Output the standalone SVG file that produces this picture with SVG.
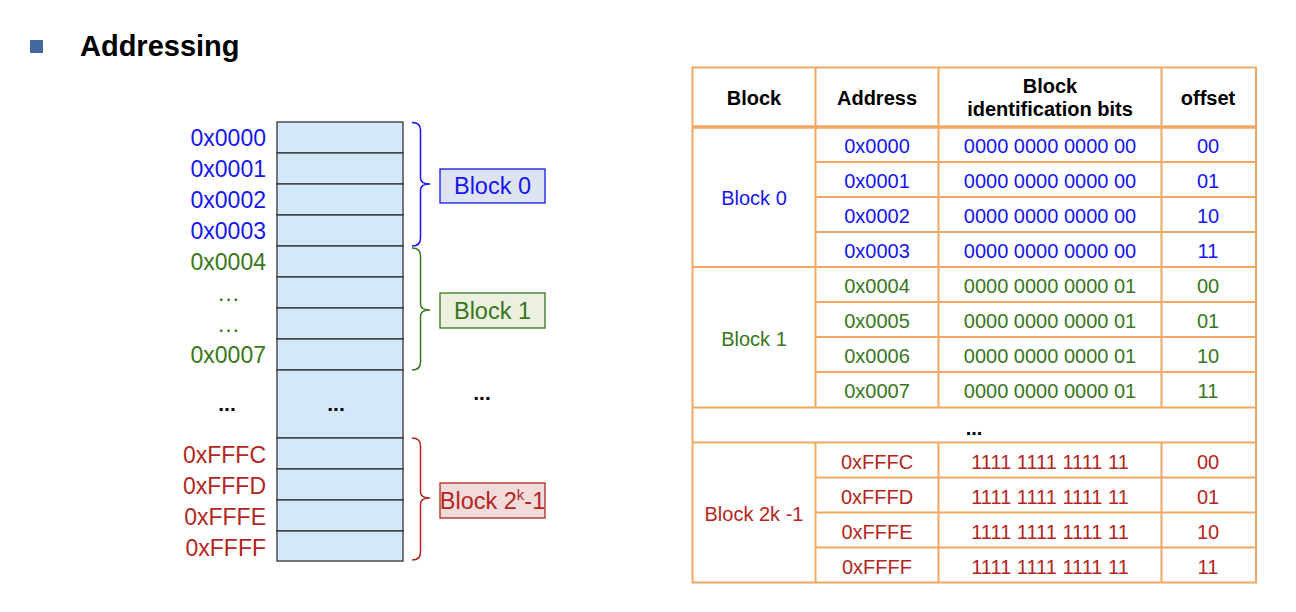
<svg xmlns="http://www.w3.org/2000/svg" width="1296" height="612" viewBox="0 0 1296 612">
<style>
text{font-family:"Liberation Sans",Arial,sans-serif}
.addr{font-size:23px;text-anchor:end}
.cell{fill:#d3e8fb;stroke:#333;stroke-width:1.3}
.b{fill:#1515f0}.g{fill:#38761d}.r{fill:#b3261e}
.brace{fill:none;stroke-width:1.5}
.lbl{font-size:23.5px;text-anchor:middle}
.t{font-size:20px;text-anchor:middle}
.th{font-size:20px;font-weight:bold;text-anchor:middle;fill:#000}
.tl{stroke:#f2a765;stroke-width:2;fill:none}
</style>
<g id="title">
<rect x="30" y="40" width="13" height="13" fill="#41689f"/>
<text x="80" y="56" font-size="29" font-weight="bold">Addressing</text>
</g>
<g id="memory">
<rect class="cell" x="277" y="122" width="126" height="31"/>
<rect class="cell" x="277" y="153" width="126" height="31"/>
<rect class="cell" x="277" y="184" width="126" height="31"/>
<rect class="cell" x="277" y="215" width="126" height="31"/>
<rect class="cell" x="277" y="246" width="126" height="31"/>
<rect class="cell" x="277" y="277" width="126" height="31"/>
<rect class="cell" x="277" y="308" width="126" height="31"/>
<rect class="cell" x="277" y="339" width="126" height="31"/>
<rect class="cell" x="277" y="370" width="126" height="68"/>
<rect class="cell" x="277" y="438" width="126" height="31"/>
<rect class="cell" x="277" y="469" width="126" height="31"/>
<rect class="cell" x="277" y="500" width="126" height="31"/>
<rect class="cell" x="277" y="531" width="126" height="30"/>
<text x="336" y="411" font-size="21" font-weight="bold" text-anchor="middle">...</text>
</g>
<g id="addresses">
<text class="addr b" x="266" y="146">0x0000</text>
<text class="addr b" x="266" y="177">0x0001</text>
<text class="addr b" x="266" y="208">0x0002</text>
<text class="addr b" x="266" y="239">0x0003</text>
<text class="addr g" x="266" y="270">0x0004</text>
<text class="addr g" x="240" y="301">…</text>
<text class="addr g" x="240" y="332">…</text>
<text class="addr g" x="266" y="363">0x0007</text>
<text x="227" y="411" font-size="21" font-weight="bold" text-anchor="middle">...</text>
<text class="addr r" x="266" y="463">0xFFFC</text>
<text class="addr r" x="266" y="494">0xFFFD</text>
<text class="addr r" x="266" y="525">0xFFFE</text>
<text class="addr r" x="266" y="556">0xFFFF</text>
<text x="482" y="400" font-size="21" font-weight="bold" text-anchor="middle">...</text>
</g>
<g id="connectors">
<path class="brace" stroke="#1515f0" d="M412,122.5 Q420.5,122.5 420.5,130 V178 Q420.5,184 430,184 Q420.5,184 420.5,190 V238 Q420.5,246 412,246"/>
<path class="brace" stroke="#38761d" d="M412,248 Q420.5,248 420.5,256 V304 Q420.5,310 430,310 Q420.5,310 420.5,316 V362 Q420.5,370 412,370"/>
<path class="brace" stroke="#b3261e" d="M412,438 Q420.5,438 420.5,446 V492 Q420.5,498 430,498 Q420.5,498 420.5,504 V552 Q420.5,560 412,560"/>
</g>
<g id="block0">
<rect x="440" y="169" width="105" height="34" fill="#dde3f1" stroke="#1515f0" stroke-width="1.3"/>
<text class="lbl b" x="492.5" y="194">Block 0</text>
</g>
<g id="block1">
<rect x="440" y="293" width="105" height="35" fill="#ebf1de" stroke="#38761d" stroke-width="1.3"/>
<text class="lbl g" x="492.5" y="319">Block 1</text>
</g>
<g id="blockN">
<rect x="440" y="483" width="105" height="35" fill="#f1dbdb" stroke="#b3261e" stroke-width="1.3"/>
<text class="lbl r" x="492.5" y="509">Block 2<tspan font-size="15" dy="-9">k</tspan><tspan dy="9">-1</tspan></text>
</g>
<g id="table">
<rect class="tl" x="692.5" y="67.5" width="563.5" height="515"/>
<line class="tl" x1="815.5" y1="67.5" x2="815.5" y2="407.5"/>
<line class="tl" x1="815.5" y1="442.5" x2="815.5" y2="582.5"/>
<line class="tl" x1="938.5" y1="67.5" x2="938.5" y2="407.5"/>
<line class="tl" x1="938.5" y1="442.5" x2="938.5" y2="582.5"/>
<line class="tl" x1="1161.5" y1="67.5" x2="1161.5" y2="407.5"/>
<line class="tl" x1="1161.5" y1="442.5" x2="1161.5" y2="582.5"/>
<line stroke="#f2a765" stroke-width="3.5" x1="692.5" y1="127" x2="1256" y2="127"/>
<line class="tl" x1="815.5" y1="162" x2="1256" y2="162"/>
<line class="tl" x1="815.5" y1="197" x2="1256" y2="197"/>
<line class="tl" x1="815.5" y1="232" x2="1256" y2="232"/>
<line class="tl" x1="692.5" y1="267" x2="1256" y2="267"/>
<line class="tl" x1="815.5" y1="302" x2="1256" y2="302"/>
<line class="tl" x1="815.5" y1="337" x2="1256" y2="337"/>
<line class="tl" x1="815.5" y1="372" x2="1256" y2="372"/>
<line class="tl" x1="692.5" y1="407.5" x2="1256" y2="407.5"/>
<line class="tl" x1="692.5" y1="442.5" x2="1256" y2="442.5"/>
<line class="tl" x1="815.5" y1="477.5" x2="1256" y2="477.5"/>
<line class="tl" x1="815.5" y1="512.5" x2="1256" y2="512.5"/>
<line class="tl" x1="815.5" y1="547.5" x2="1256" y2="547.5"/>
<text class="th" x="754" y="105">Block</text>
<text class="th" x="877" y="105">Address</text>
<text class="th" x="1050" y="93">Block</text>
<text class="th" x="1050" y="116">identification bits</text>
<text class="th" x="1208" y="105">offset</text>
<text class="t b" x="754" y="205">Block 0</text>
<text class="t b" x="877" y="153">0x0000</text>
<text class="t b" x="877" y="188">0x0001</text>
<text class="t b" x="877" y="223">0x0002</text>
<text class="t b" x="877" y="258">0x0003</text>
<text class="t b" x="1050" y="153">0000 0000 0000 00</text>
<text class="t b" x="1050" y="188">0000 0000 0000 00</text>
<text class="t b" x="1050" y="223">0000 0000 0000 00</text>
<text class="t b" x="1050" y="258">0000 0000 0000 00</text>
<text class="t b" x="1208" y="153">00</text>
<text class="t b" x="1208" y="188">01</text>
<text class="t b" x="1208" y="223">10</text>
<text class="t b" x="1208" y="258">11</text>
<text class="t g" x="754" y="346">Block 1</text>
<text class="t g" x="877" y="293">0x0004</text>
<text class="t g" x="877" y="328">0x0005</text>
<text class="t g" x="877" y="363">0x0006</text>
<text class="t g" x="877" y="398">0x0007</text>
<text class="t g" x="1050" y="293">0000 0000 0000 01</text>
<text class="t g" x="1050" y="328">0000 0000 0000 01</text>
<text class="t g" x="1050" y="363">0000 0000 0000 01</text>
<text class="t g" x="1050" y="398">0000 0000 0000 01</text>
<text class="t g" x="1208" y="293">00</text>
<text class="t g" x="1208" y="328">01</text>
<text class="t g" x="1208" y="363">10</text>
<text class="t g" x="1208" y="398">11</text>
<text class="th" x="974" y="435">...</text>
<text class="t r" x="754" y="521">Block 2k -1</text>
<text class="t r" x="877" y="469">0xFFFC</text>
<text class="t r" x="877" y="504">0xFFFD</text>
<text class="t r" x="877" y="539">0xFFFE</text>
<text class="t r" x="877" y="574">0xFFFF</text>
<text class="t r" x="1050" y="469">1111 1111 1111 11</text>
<text class="t r" x="1050" y="504">1111 1111 1111 11</text>
<text class="t r" x="1050" y="539">1111 1111 1111 11</text>
<text class="t r" x="1050" y="574">1111 1111 1111 11</text>
<text class="t r" x="1208" y="469">00</text>
<text class="t r" x="1208" y="504">01</text>
<text class="t r" x="1208" y="539">10</text>
<text class="t r" x="1208" y="574">11</text>
</g>
</svg>
